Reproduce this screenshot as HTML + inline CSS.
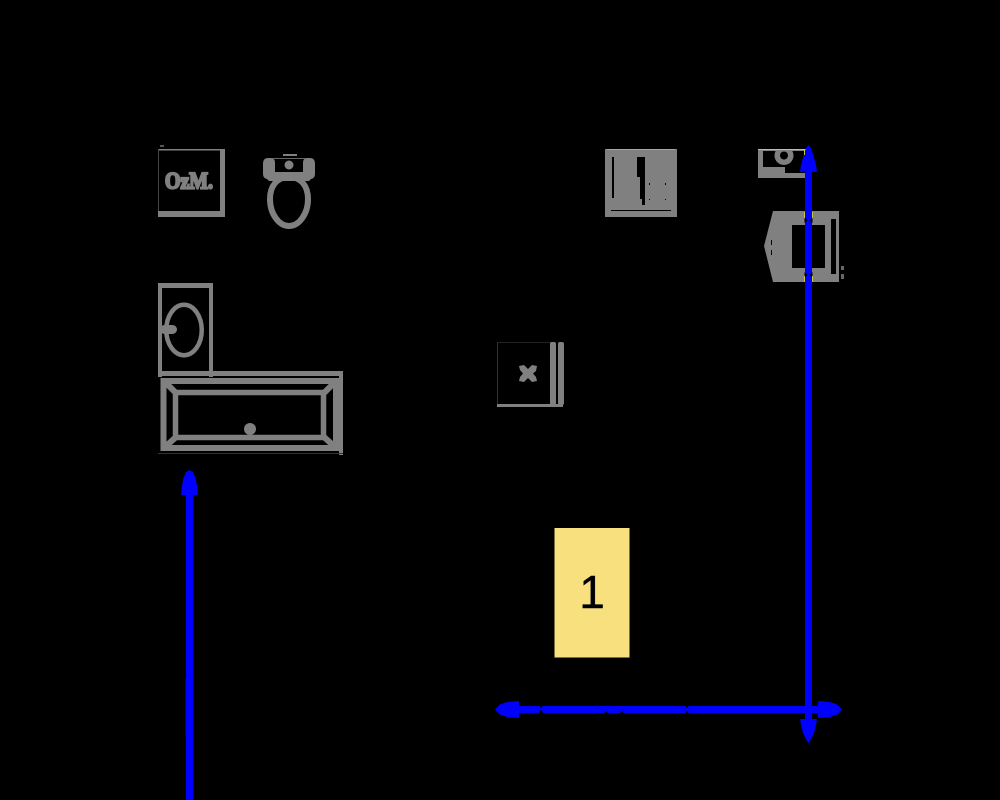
<!DOCTYPE html>
<html>
<head>
<meta charset="utf-8">
<style>
html,body{margin:0;padding:0;background:#000;width:1000px;height:800px;overflow:hidden}
svg{display:block}
</style>
</head>
<body>
<svg width="1000" height="800" viewBox="0 0 1000 800" xmlns="http://www.w3.org/2000/svg">
<rect width="1000" height="800" fill="#000"/>

<!-- OzM box -->
<g fill="#808080">
  <rect x="158" y="149" width="67" height="1.5"/>
  <rect x="158" y="149" width="1" height="68" fill="#444"/>
  <rect x="220" y="149" width="5" height="68"/>
  <rect x="158" y="211" width="67" height="6"/>
  <rect x="160" y="145" width="4" height="2" fill="#555"/>
  <text x="165" y="188.500" font-family="'Liberation Serif',serif" font-weight="bold" font-size="23" textLength="48" lengthAdjust="spacingAndGlyphs" stroke="#808080" stroke-width="2.200">OzM.</text>
</g>

<!-- Toilet -->
<g fill="#808080" stroke="none">
  <path d="M289 177C277 177 270 186 270 199C270 214 279 226 289 226C299 226 308 214 308 199C308 186 301 177 289 177Z" fill="none" stroke="#808080" stroke-width="6"/>
  <path d="M263 164Q263 158 268 158H271Q275 158 275 163V172H303V163Q303 158 307 158H310Q315 158 315 164V174Q315 178 311 179L309 181H269L267 179Q263 178 263 174Z"/>
  <rect x="272" y="158" width="34" height="1" fill="#666"/>
  <circle cx="289" cy="165" r="4.500"/>
  <rect x="283" y="154" width="14" height="2"/>
</g>

<!-- Left sink -->
<g>
  <path d="M160 377V285.500H211V377" fill="none" stroke="#808080" stroke-width="4"/>
  <rect x="158" y="283" width="55" height="5" fill="#808080"/>
  <ellipse cx="184" cy="330" rx="17.750" ry="25.250" fill="none" stroke="#808080" stroke-width="4.500"/>
  <path d="M164.500 329.500H172.500" stroke="#808080" stroke-width="9" stroke-linecap="round"/>
</g>

<!-- Bathtub -->
<g fill="none" stroke="#808080">
  <rect x="158" y="371" width="185" height="5" fill="#808080" stroke="none"/>
  <rect x="339" y="371" width="4" height="84" fill="#808080" stroke="none"/>
  <rect x="158" y="453" width="185" height="1" fill="#333" stroke="none"/>
  <rect x="163.500" y="381" width="172.500" height="67" stroke-width="6"/>
  <rect x="175.500" y="392.500" width="148" height="45" stroke-width="5.500"/>
  <path d="M164 381L176 393M336 381L324 393M164 448L176 437M336 448L324 437" stroke-width="6"/>
  <circle cx="250" cy="429" r="6" fill="#808080" stroke="none"/>
</g>

<!-- Cross box -->
<g fill="#808080">
  <rect x="497" y="342" width="1" height="65" fill="#333"/>
  <rect x="497" y="342" width="55" height="1" fill="#222"/>
  <rect x="497" y="404" width="66" height="3"/>
  <rect x="550" y="342" width="6" height="63" rx="2"/>
  <rect x="558" y="342" width="6" height="63" rx="2"/>
  <path d="M519 366L524 365L528 369L532 365L537 366L536 371L533 373.500L536 377L537 381L532 382L528 378L524 382L519 381L520 377L523 373.500L520 370Z"/>
</g>

<!-- Dark panel -->
<g>
  <rect x="605" y="149" width="72" height="68" fill="#808080"/>
  <rect x="607" y="149" width="68" height="1" fill="#ccc" opacity=".5"/>
  <rect x="612" y="157" width="2" height="41" fill="#000"/>
  <rect x="637" y="157" width="8" height="20" fill="#000"/>
  <path d="M640 177H645V205H642V199H640Z" fill="#000"/>
  <rect x="611" y="210" width="60" height="1" fill="#000"/>
  <g fill="#000">
    <rect x="649" y="183" width="1" height="2"/><rect x="665" y="183" width="1" height="2"/>
    <rect x="649" y="199" width="1" height="1"/><rect x="665" y="199" width="1" height="1"/>
  </g>
</g>

<!-- Top right sink -->
<g>
  <rect x="758" y="149" width="48" height="29" fill="#808080"/>
  <rect x="763" y="151" width="22" height="16" fill="#000"/>
  <rect x="785" y="151" width="20" height="22" fill="#000"/>
  <circle cx="784" cy="155.500" r="9.500" fill="#808080"/>
  <circle cx="784" cy="155.500" r="4" fill="#000"/>
  <rect x="758" y="149" width="48" height="1" fill="#bbb"/>
  <rect x="758" y="146" width="48" height="3" fill="#000"/>
</g>

<!-- Washer -->
<g>
  <path d="M773 211H839V282H773L764 246Z" fill="#808080"/>
  <rect x="792" y="225" width="33" height="43" fill="#000"/>
  <rect x="831" y="219" width="5" height="55" fill="#000"/>
  <rect x="771" y="240" width="1" height="5" fill="#000"/>
  <rect x="771" y="250" width="1" height="5" fill="#000"/>
  <path d="M841 266h3v4h-3zM841 274h3v5h-3z" fill="#666"/>
</g>

<!-- Yellow node -->
<rect x="554.500" y="528" width="75" height="129.500" fill="#f9e07f"/>
<text x="592" y="608" text-anchor="middle" font-family="'Liberation Sans',sans-serif" font-size="46" fill="#000" stroke="#000" stroke-width=".4">1</text>

<!-- Blue connectors -->
<g fill="#0000ff">
  <rect x="186" y="490" width="7" height="310"/>
  <path d="M189.500 470L193 472L195.500 478L197 485L198 495H181L182 485L183.500 478L186 472Z"/>
  <rect x="185.500" y="678" width="1" height="58"/>

  <rect x="805" y="165" width="7" height="556"/>
  <path d="M808.500 145L811 148L813.500 156L816 165L817 172H800L801 165L803.500 156L806 148Z"/>
  <path d="M800 719H817L816 725L814 733L810 741L808.500 743L807 741L803 733L801 725Z"/>

  <rect x="510" y="706" width="320" height="7"/>
  <path d="M495 709.500L500 704.500L507 702L519 701V718L507 717L500 714.500Z"/>
  <path d="M842 709.500L837 704.500L830 702L818 701V718L830 717L837 714.500Z"/>
  <path d="M606 706H623L619 712.500H610Z"/>
</g>
<g fill="#000">
  <path d="M538.500 713.500L541 709.500L543.500 713.500Z"/>
  <path d="M539.500 705.500L541 708L543 705.500Z"/>
  <path d="M604 714L606 711L609 714ZM619 714L622 711L624 714Z"/>
  <path d="M685 713.500L687 710.500L689 713.500Z"/>
  <path d="M685 705.500L687 708L689 705.500Z"/>
  <path d="M804.500 217L807.500 220L804.500 223ZM812.500 217L809.500 220L812.500 223Z"/>
  <path d="M804.500 272L807.500 275L804.500 278ZM812.500 272L809.500 275L812.500 278Z"/>
</g>
<g fill="#c8c840">
  <rect x="804" y="212" width="1" height="6"/>
  <rect x="812" y="212" width="1" height="6"/>
  <rect x="804" y="276" width="1" height="6"/>
  <rect x="812" y="276" width="1" height="6"/>
  <rect x="804" y="149" width="1" height="6"/>
</g>
</svg>
</body>
</html>
